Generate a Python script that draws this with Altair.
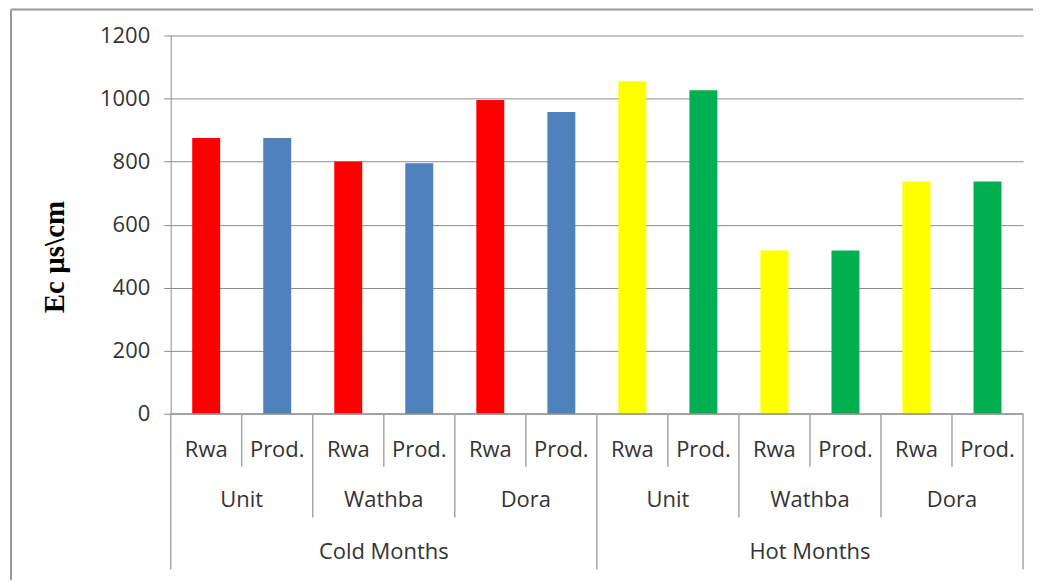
import altair as alt
import pandas as pd

periods = ["Cold Months"] * 6 + ["Hot Months"] * 6
stations = ["Unit", "Unit", "Wathba", "Wathba", "Dora", "Dora"] * 2
types = ["Rwa", "Prod."] * 6
values = [875, 875, 800, 795, 995, 957, 1055, 1026, 518, 518, 737, 737]
colors = ["#FF0000", "#4F81BD"] * 3 + ["#FFFF00", "#00B050"] * 3
y_ticks = [0, 200, 400, 600, 800, 1000, 1200]

n = len(values)
bars = pd.DataFrame({
    "pos": [i + 0.5 for i in range(n)],
    "value": values,
    "type": types,
    "color": colors,
})

# group labels and separators derived from the categories
def groups(keys):
    out = []
    start = 0
    for i in range(1, n + 1):
        if i == n or keys[i] != keys[start]:
            out.append((keys[start], start, i))
            start = i
    return out

st_keys = [p + "|" + s for p, s in zip(periods, stations)]
st_groups = groups(st_keys)
pe_groups = groups(periods)

lvl2 = pd.DataFrame({"label": [k.split("|")[1] for k, a, b in st_groups],
                     "pos": [(a + b) / 2 for k, a, b in st_groups]})
lvl3 = pd.DataFrame({"label": [k for k, a, b in pe_groups],
                     "pos": [(a + b) / 2 for k, a, b in pe_groups]})

b3 = sorted(set([a for k, a, b in pe_groups] + [b for k, a, b in pe_groups]))
b2 = sorted(set([a for k, a, b in st_groups] + [b for k, a, b in st_groups]) - set(b3))
b1 = sorted(set(range(n + 1)) - set(b2) - set(b3))

FONT = "Open Sans"
GRAY = "#8c8c8c"
FS = 22
xs = alt.Scale(domain=[0, n], nice=False, zero=False, padding=0)
ys = alt.Scale(domain=[0, 1200], nice=False)

base_bars = alt.Chart(bars).mark_bar(size=28).encode(
    x=alt.X("pos:Q", scale=xs, axis=None),
    y=alt.Y("value:Q", scale=ys,
            axis=alt.Axis(values=y_ticks, title=None, grid=True, gridColor=GRAY, format="d",
                          gridWidth=1, domainColor=GRAY, tickColor=GRAY, tickSize=7,
                          labelFontSize=FS, labelFont=FONT, labelColor="#333333",
                          labelPadding=14)),
    color=alt.Color("color:N", scale=None, legend=None),
)

x_line = alt.Chart(pd.DataFrame({"a": [0], "b": [n]})).mark_rule(color=GRAY, strokeWidth=1).encode(
    x=alt.X("a:Q", scale=xs), x2="b:Q", y=alt.value(379))

def seps(bounds, bottom):
    return alt.Chart(pd.DataFrame({"pos": bounds})).mark_rule(color="#a6a6a6", strokeWidth=1.5).encode(
        x=alt.X("pos:Q", scale=xs), y=alt.value(379), y2=alt.value(bottom))

lbl1 = alt.Chart(bars).mark_text(font=FONT, fontSize=FS, color="#333333", baseline="middle").encode(
    x=alt.X("pos:Q", scale=xs), y=alt.value(415), text="type:N")
lbl2 = alt.Chart(lvl2).mark_text(font=FONT, fontSize=FS, color="#333333", baseline="middle").encode(
    x=alt.X("pos:Q", scale=xs), y=alt.value(465), text="label:N")
lbl3 = alt.Chart(lvl3).mark_text(font=FONT, fontSize=FS, color="#333333", baseline="middle").encode(
    x=alt.X("pos:Q", scale=xs), y=alt.value(518), text="label:N")

ytitle = alt.Chart(pd.DataFrame({"t": ["Ec µs\\cm"]})).mark_text(
    font="Liberation Serif", fontSize=29, fontWeight="bold", angle=270, color="#000000",
    baseline="middle", align="center").encode(
    x=alt.value(-116), y=alt.value(222), text="t:N")

frame_top = alt.Chart(pd.DataFrame({"a": [0]})).mark_rule(color="#999999", strokeWidth=2).encode(
    x=alt.value(-160), x2=alt.value(880), y=alt.value(-26))
frame_left = alt.Chart(pd.DataFrame({"a": [0]})).mark_rule(color="#999999", strokeWidth=2).encode(
    x=alt.value(-160), y=alt.value(-26), y2=alt.value(570))

chart = alt.layer(
    base_bars, x_line, seps(b1, 432), seps(b2, 483), seps(b3, 535),
    lbl1, lbl2, lbl3, ytitle, frame_top, frame_left
).properties(
    width=854, height=379,
    autosize=alt.AutoSizeParams(type="none"),
    padding={"left": 163, "top": 27, "right": 10, "bottom": 166},
).configure(background="white").configure_view(stroke="transparent", strokeWidth=0)

chart.save("out.html", embed_options={"renderer": "svg", "actions": False})
